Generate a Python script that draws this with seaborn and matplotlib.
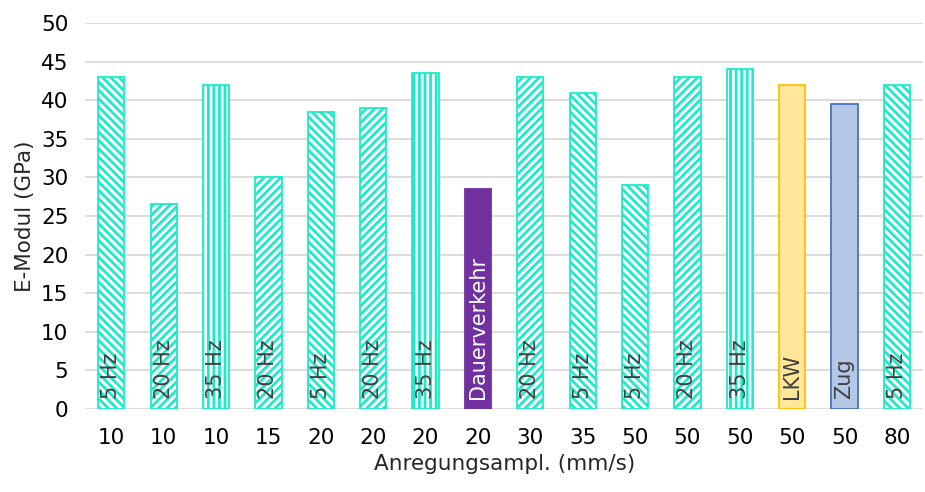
import numpy as np
import pandas as pd
import seaborn as sns
import matplotlib.pyplot as plt

# data
ampl = ['10', '10', '10', '15', '20', '20', '20', '20', '30', '35', '50', '50', '50', '50', '50', '80']
modul = [43, 26.5, 42, 30, 38.5, 39, 43.5, 28.5, 43, 41, 29, 43, 44, 42, 39.5, 42]
labels = ['5 Hz', '20 Hz', '35 Hz', '20 Hz', '5 Hz', '20 Hz', '35 Hz', 'Dauerverkehr',
          '20 Hz', '5 Hz', '5 Hz', '20 Hz', '35 Hz', 'LKW', 'Zug', '5 Hz']

teal = '#1CEACB'
style = {
    '5 Hz': ('white', teal, '\\\\\\\\'),
    '20 Hz': ('white', teal, '////'),
    '35 Hz': ('white', teal, '|||'),
    'Dauerverkehr': ('#7030A0', '#7030A0', ''),
    'LKW': ('#FFE699', '#FFC000', ''),
    'Zug': ('#B4C7E7', '#4472C4', ''),
}
text_col = {'Dauerverkehr': 'white'}

sns.set_style('white')
plt.rcParams['font.family'] = ['DejaVu Sans']
plt.rcParams['hatch.linewidth'] = 2.0

df = pd.DataFrame({'pos': [str(i) for i in range(len(modul))], 'E': modul, 'label': labels})

fig, ax = plt.subplots(figsize=(9.25, 4.92), dpi=100)
fig.subplots_adjust(left=0.092, right=0.998, bottom=0.169, top=0.953)

sns.barplot(data=df, x='pos', y='E', color='white', width=0.5, ax=ax, zorder=3)

for patch, lab in zip(ax.patches, labels):
    face, edge, hatch = style[lab]
    patch.set_facecolor(face)
    patch.set_edgecolor(edge)
    patch.set_hatch(hatch)
    patch.set_linewidth(1.3)

for i, lab in enumerate(labels):
    ax.text(i, 1.3, lab, rotation=90, ha='center', va='bottom',
            fontsize=15 if lab != 'Dauerverkehr' else 15,
            color=text_col.get(lab, '#404040'), zorder=4)

ax.set_ylim(0, 50)
ax.set_xlim(-0.5, len(modul) - 0.5)
ax.set_yticks(np.arange(0, 51, 5))
ax.set_xticks(range(len(ampl)))
ax.set_xticklabels(ampl)
ax.yaxis.grid(True, color='#D9D9D9', linewidth=1.3, zorder=0)
ax.set_axisbelow(True)
for s in ax.spines.values():
    s.set_visible(False)
ax.tick_params(axis='both', length=0, labelsize=15.5, colors='black')
ax.tick_params(axis='x', pad=14)
ax.tick_params(axis='y', pad=12)
ax.set_ylabel('E-Modul (GPa)', fontsize=15.5)
ax.set_xlabel('Anregungsampl. (mm/s)', fontsize=15.5, labelpad=4)

plt.savefig('out.png', dpi=100)
